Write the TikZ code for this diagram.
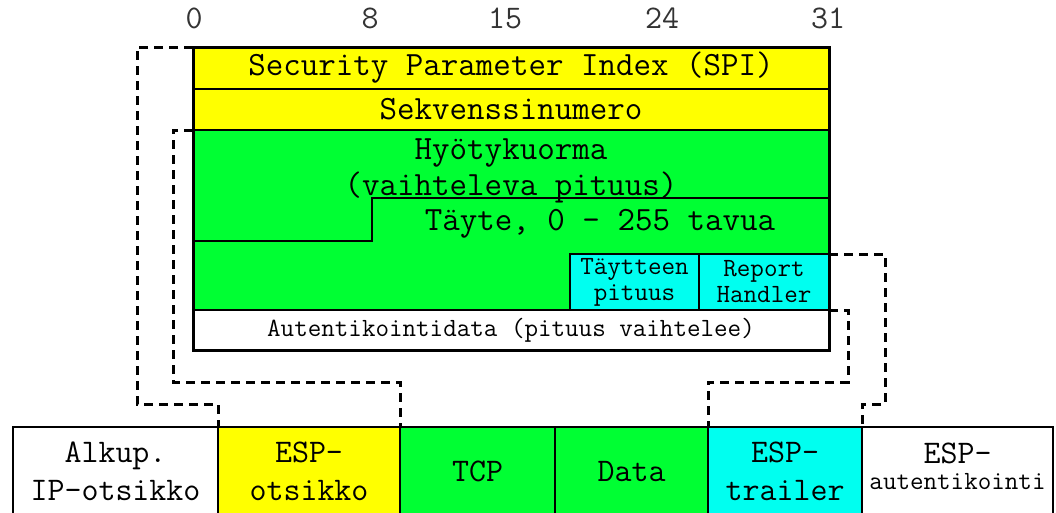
\documentclass[tikz,border=0pt]{standalone}
\usepackage{fontspec}
\definecolor{espyellow}{RGB}{255,255,0}
\definecolor{espgreen}{RGB}{0,255,51}
\definecolor{espcyan}{RGB}{0,255,240}
\begin{document}
\begin{tikzpicture}[x=1pt,y=-1pt,
  field/.style={draw=black, line width=2pt, anchor=north west, inner sep=0pt,
    outer sep=0pt, align=center},
  big/.style={font=\ttfamily\fontsize{34}{36}\selectfont},
  bottomtxt/.style={font=\ttfamily\fontsize{33}{38}\selectfont},
  small/.style={font=\ttfamily\fontsize{26.3}{26}\selectfont},
  bitnum/.style={font=\ttfamily\fontsize{33}{36}\selectfont, anchor=base, text=black!80},
  steprule/.style={draw=black, line width=2pt},
  conn/.style={draw=black, line width=3pt, dash pattern=on 9pt off 6pt}
]
\useasboundingbox (0,0) rectangle (1056,512);
\clip (0,0) rectangle (1056,512);

% bit positions
\foreach \b/\x in {0/194,8/370,15/505,24/662,31/828}
  \node[bitnum] (bit\b) at (\x,28) {\b};

% ESP packet format
\node[field,big,fill=espyellow,minimum width=636pt,minimum height=42pt] (spi) at (193,47)
  {Security Parameter Index (SPI)};
\node[field,big,fill=espyellow,minimum width=636pt,minimum height=41pt] (seq) at (193,89)
  {Sekvenssinumero};
\node[field,fill=espgreen,minimum width=636pt,minimum height=180pt] (payload) at (193,130) {};
\draw[steprule] (payload.west |- 0,241) -| (372,198) -- (payload.east |- 0,198);
\node[big,align=center,inner sep=0pt] (payloadtxt) at (511,170.5)
  {Hyötykuorma\\(vaihteleva pituus)};
\node[big,anchor=base,inner sep=0pt] (padtxt) at (600,230) {Täyte, 0 - 255 tavua};
\node[field,small,fill=espcyan,minimum width=129pt,minimum height=56pt] (padlen) at (570,254)
  {Täytteen\\pituus};
\node[field,small,fill=espcyan,minimum width=130pt,minimum height=56pt] (report) at (699,254)
  {Report\\Handler};
\node[field,small,fill=white,minimum width=636pt,minimum height=40pt] (authdata) at (193,310)
  {Autentikointidata (pituus vaihtelee)};
\draw[line width=3pt] (spi.north west) rectangle (authdata.south east);

% encapsulated packet
\node[field,bottomtxt,fill=white,minimum width=205pt,minimum height=89pt] (orig) at (13,427)
  {Alkup.\\IP-otsikko};
\node[field,bottomtxt,fill=espyellow,minimum width=182pt,minimum height=89pt] (hdr) at (218,427)
  {ESP-\\otsikko};
\node[field,bottomtxt,fill=espgreen,minimum width=155pt,minimum height=89pt] (tcp) at (400,427)
  {TCP};
\node[field,bottomtxt,fill=espgreen,minimum width=153pt,minimum height=89pt] (data) at (555,427)
  {Data};
\node[field,bottomtxt,fill=espcyan,minimum width=154pt,minimum height=89pt] (trailer) at (708,427)
  {ESP-\\trailer};
\node[field,bottomtxt,fill=white,minimum width=191pt,minimum height=89pt] (espauth) at (862,427)
  {ESP-\\[-12pt]\fontsize{26.3}{28}\selectfont autentikointi\rule[-11pt]{0pt}{11pt}};

% mapping of the fields onto the packet parts
\draw[conn] (spi.north west) -| (137,404) -| (hdr.north west);
\draw[conn] (payload.north west) -| (173,382) -| (tcp.north west);
\draw[conn] (authdata.north east) -| (848,382) -| (trailer.north west);
\draw[conn] (report.north east) -| (885,404) -| (espauth.north west);
\end{tikzpicture}
\end{document}
